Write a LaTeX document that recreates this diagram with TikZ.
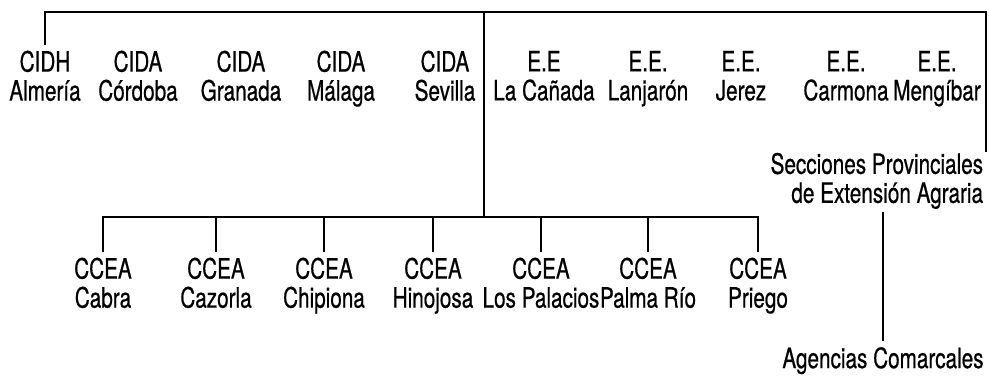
\documentclass[tikz,border=0pt]{standalone}
\usepackage{fontspec}
\setmainfont{TeX Gyre Heros}[FakeStretch=0.74, FakeBold=0.6]
\usetikzlibrary{positioning}

\tikzset{
  unit/.style = {align=center, inner xsep=1pt, inner ysep=2.5pt,
    font=\fontsize{14}{14.5}\selectfont,
    execute at begin node=\strut, execute at end node=\strut},
  link/.style = {line width=0.9pt}
}

\begin{document}
\begin{tikzpicture} [x=0.5pt, y=-0.5pt, link]

\useasboundingbox (0,0) rectangle (990,379);

% centros de investigacion
\node (cidh) [unit] at (45,80) {CIDH\\Almería};
\node (cordoba) [unit] at (138,80) {CIDA\\Córdoba};
\node (granada) [unit] at (241,80) {CIDA\\Granada};
\node (malaga) [unit] at (341,80) {CIDA\\Málaga};
\node (sevilla) [unit] at (445,80) {CIDA\\Sevilla};

% estaciones experimentales
\node (canada) [unit] at (544,80) {E.E\\La Cañada};
\node (lanjaron) [unit] at (648,80) {E.E.\\Lanjarón};
\node (jerez) [unit] at (741,80) {E.E.\\Jerez};
\node (carmona) [unit] at (846,80) {E.E.\\Carmona};
\node (mengibar) [unit] at (937,80) {E.E.\\Mengíbar};

% extension agraria
\node (sec) [unit, align=right, anchor=north east, inner ysep=0pt] at (986,152) {Secciones Provinciales\\de Extensión Agraria};
\node (ag) [unit] at (883,362) {Agencias Comarcales};

% ccea
\node (cabra) [unit] at (103,287) {CCEA\\Cabra};
\node (cazorla) [unit] at (216,287) {CCEA\\Cazorla};
\node (chipiona) [unit] at (324,287) {CCEA\\Chipiona};
\node (hinojosa) [unit] at (433,287) {CCEA\\Hinojosa};
\node (palacios) [unit] at (541,287) {CCEA\\Los Palacios};
\node (palma) [unit] at (648,287) {CCEA\\Palma Río};
\node (priego) [unit] at (758,287) {CCEA\\Priego};

\coordinate (top) at (484,12);
\coordinate (bus) at (484,217);

\draw (cidh.north) |- (top) -| (sec.north east);
\draw (top) -- (bus);
\draw (cabra.north) |- (bus) -| (priego.north);
\foreach \n in {cazorla, chipiona, hinojosa, palacios, palma}
  \draw (\n.north) -- (\n.north |- bus);
\draw (sec.south -| ag.north) -- (ag.north);

\end{tikzpicture}
\end{document}
